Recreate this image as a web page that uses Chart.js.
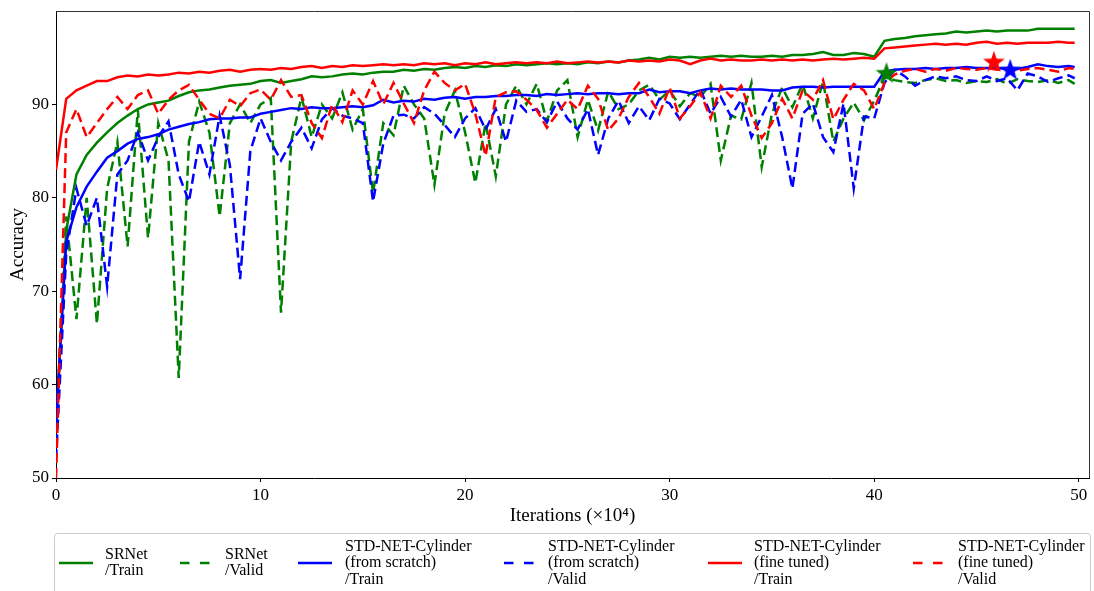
<!DOCTYPE html>
<html>
<head>
<meta charset="utf-8">
<script src="https://cdn.jsdelivr.net/npm/chart.js@4.4.1/dist/chart.umd.min.js"></script>
<style>
  html, body { margin: 0; padding: 0; background: #fff; }
  #accChart { display: block; }
</style>
</head>
<body>
<canvas id="accChart" width="1094" height="591"></canvas>
<script>
// iterations (x10^4)
const iterations = [
  0, 0.5, 1, 1.5, 2, 2.5, 3, 3.5, 4, 4.5,
  5, 5.5, 6, 6.5, 7, 7.5, 8, 8.5, 9, 9.5,
  10, 10.5, 11, 11.5, 12, 12.5, 13, 13.5, 14, 14.5,
  15, 15.5, 16, 16.5, 17, 17.5, 18, 18.5, 19, 19.5,
  20, 20.5, 21, 21.5, 22, 22.5, 23, 23.5, 24, 24.5,
  25, 25.5, 26, 26.5, 27, 27.5, 28, 28.5, 29, 29.5,
  30, 30.5, 31, 31.5, 32, 32.5, 33, 33.5, 34, 34.5,
  35, 35.5, 36, 36.5, 37, 37.5, 38, 38.5, 39, 39.5,
  40, 40.5, 41, 41.5, 42, 42.5, 43, 43.5, 44, 44.5,
  45, 45.5, 46, 46.5, 47, 47.5, 48, 48.5, 49, 49.5,
  49.8
];

const srnetTrain = [
  55, 76.5, 82.5, 84.6, 85.9, 87.0, 88.0, 88.8, 89.5, 90.0,
  90.2, 90.4, 90.9, 91.3, 91.5, 91.6, 91.8, 92.0, 92.1, 92.2,
  92.5, 92.6, 92.3, 92.5, 92.7, 93.0, 92.9, 93.0, 93.2, 93.3,
  93.2, 93.4, 93.5, 93.5, 93.7, 93.6, 93.8, 93.7, 93.9, 94.0,
  93.9, 94.1, 94.0, 94.2, 94.1, 94.3, 94.2, 94.3, 94.4, 94.3,
  94.4, 94.3, 94.5, 94.4, 94.6, 94.5, 94.7, 94.8, 95.0, 94.8,
  95.1, 95.0, 95.1, 95.0, 95.1, 95.2, 95.1, 95.2, 95.1, 95.1,
  95.2, 95.1, 95.3, 95.3, 95.4, 95.6, 95.3, 95.3, 95.5, 95.4,
  95.1, 96.8, 97.0, 97.1, 97.3, 97.4, 97.5, 97.6, 97.8, 97.7,
  97.8, 97.9, 97.8, 97.9, 97.9, 97.9, 98.1, 98.1, 98.1, 98.1,
  98.1
];

const srnetValid = [
  55, 78, 67, 80, 66.5, 81, 86, 74.8, 89.4, 75.7,
  88, 84, 60.7, 86, 90.3, 87, 78.0, 88, 90, 88,
  90, 90.7, 67.7, 86, 90.8, 86.5, 90.0, 88.5, 91.3, 87.3,
  89.5, 80.5, 88, 86.7, 92.0, 90, 88.5, 81.4, 89, 91.5,
  87, 81.6, 88, 82.3, 90, 92.0, 90, 92.2, 88.2, 91.5,
  92.6, 86.5, 90.5, 87.2, 91.4, 89.5, 90.0, 91.5, 92.1, 90.5,
  91.5, 89.8, 91.2, 90.8, 92.2, 84.0, 88.8, 88.4, 92.3, 83.3,
  89.0, 91.8, 89.7, 92.2, 88.5, 92.5, 86.0, 88.5, 90.2, 88.3,
  90.4, 92.9, 92.6, 92.4, 92.3, 92.6, 92.8, 92.5, 92.6, 92.3,
  92.5, 92.4, 92.7, 92.2, 92.7, 92.5, 92.4, 92.6, 92.3, 92.6,
  92.2
];

const scratchTrain = [
  56, 75.3, 79.0, 81.2, 82.8, 84.3, 85.0, 85.8, 86.3, 86.5,
  86.8, 87.3, 87.6, 87.9, 88.1, 88.4, 88.5, 88.5, 88.6, 88.6,
  89.0, 89.2, 89.4, 89.6, 89.5, 89.7, 89.6, 89.6, 89.7, 89.8,
  89.7, 89.9, 90.5, 90.2, 90.4, 90.3, 90.6, 90.5, 90.7, 90.8,
  90.6, 90.8, 90.8, 90.9, 90.9, 91.0, 91.0, 90.9, 91.1, 91.0,
  91.1, 91.2, 91.1, 91.2, 91.2, 91.1, 91.2, 91.2, 91.6, 91.3,
  91.4, 91.4, 91.2, 91.5, 91.7, 91.6, 91.7, 91.6, 91.6, 91.6,
  91.5, 91.5, 91.8, 91.9, 91.9, 91.8, 91.9, 91.9, 91.9, 91.9,
  91.9, 93.5, 93.7, 93.8, 93.8, 93.9, 93.8, 93.9, 93.9, 94.0,
  93.9, 93.9, 93.9, 93.8, 93.8, 94.0, 94.3, 94.1, 94.0, 94.1,
  94.0
];

const scratchValid = [
  52, 74, 81, 77, 80, 70.5, 82.5, 84, 87, 84,
  86.5, 88.2, 82.5, 79.6, 86, 82.5, 88.8, 83.5, 71.3, 85,
  88.5, 86, 84.0, 86.0, 87.5, 85.3, 88.4, 89.6, 88.8, 88.5,
  88.0, 79.6, 85.8, 88.8, 88.9, 88.5, 89.7, 89.0, 87.8, 86.5,
  88.5, 89.6, 87.3, 89.5, 86.0, 90.4, 89.2, 89.5, 88.1, 90.3,
  88.5, 87.3, 89.5, 84.6, 88.5, 90.4, 88.0, 89.8, 88.3, 90.6,
  90.1, 88.4, 90.0, 91.6, 89.0, 90.8, 88.7, 90.5, 86.5, 88.7,
  91.0, 86.5, 81.0, 89.0, 90.1, 86.5, 84.9, 90.1, 81.0, 88.7,
  88.5, 92.3, 93.7, 93.0, 92.0, 92.6, 93.0, 92.8, 93.0, 92.6,
  92.5, 93.0, 92.5, 92.8, 91.5, 93.3, 93.0, 92.4, 92.8, 93.1,
  92.8
];

const fineTrain = [
  83.0, 90.6, 91.5, 92.0, 92.5, 92.5, 92.9, 93.1, 93.0, 93.2,
  93.1, 93.2, 93.4, 93.3, 93.5, 93.4, 93.6, 93.7, 93.5, 93.7,
  93.8, 93.7, 93.9, 93.8, 94.0, 94.1, 93.9, 94.1, 94.0, 94.2,
  94.1, 94.2, 94.3, 94.2, 94.3, 94.2, 94.4, 94.3, 94.4, 94.2,
  94.4, 94.3, 94.5, 94.3, 94.4, 94.5, 94.4, 94.5, 94.4, 94.6,
  94.4, 94.5, 94.6, 94.5, 94.6, 94.5, 94.7, 94.6, 94.7, 94.6,
  94.8, 94.7, 94.3, 94.7, 94.9, 94.7, 94.8, 94.7, 94.7, 94.8,
  94.7, 94.8, 94.7, 94.8, 94.7, 94.8, 94.9, 94.8, 94.9, 95.0,
  94.9, 96.0, 96.1, 96.2, 96.3, 96.4, 96.5, 96.4, 96.5, 96.4,
  96.6, 96.7, 96.5, 96.6, 96.5, 96.6, 96.6, 96.6, 96.7, 96.6,
  96.6
];

const fineValid = [
  50, 87, 89.5, 86.5, 88.0, 89.5, 90.8, 89.5, 91.0, 91.5,
  89.0, 90.5, 91.5, 92.1, 90.5, 89.0, 88.5, 90.5, 89.8, 91.2,
  91.6, 90.5, 92.6, 90.8, 91.0, 88.0, 86.4, 90.0, 88.1, 91.5,
  90.0, 92.5, 90.0, 92.3, 90.1, 88.0, 91.5, 93.5, 92.3, 91.5,
  92.2, 89.0, 84.5, 90.8, 91.3, 91.4, 90.5, 89.4, 87.5, 89.0,
  90.5, 89.5, 92.0, 90.6, 87.2, 88.5, 90.8, 92.3, 90.8, 89.0,
  91.8, 88.5, 89.8, 91.3, 88.5, 92.0, 90.8, 92.0, 88.8, 86.4,
  88.0, 90.6, 88.5, 91.5, 90.5, 92.6, 88.4, 90.5, 92.2, 91.5,
  89.5, 92.3, 93.2, 93.6, 93.8, 93.5, 93.8, 93.6, 93.9, 93.8,
  93.7, 93.9, 93.7, 93.8, 93.6, 93.8, 93.9, 93.7, 93.5, 93.9,
  93.8
];

// best validation points (stars)
const bestSrnet = { x: 40.6, y: 93.4 };
const bestFine = { x: 45.85, y: 94.6 };
const bestScratch = { x: 46.65, y: 93.75 };

const xTicks = [0, 10, 20, 30, 40, 50];
const yTicks = [50, 60, 70, 80, 90];

const legendLabels = [
  ['SRNet', '/Train'],
  ['SRNet', '/Valid'],
  ['STD-NET-Cylinder', '(from scratch)', '/Train'],
  ['STD-NET-Cylinder', '(from scratch)', '/Valid'],
  ['STD-NET-Cylinder', '(fine tuned)', '/Train'],
  ['STD-NET-Cylinder', '(fine tuned)', '/Valid']
];

const GREEN = '#008000';
const BLUE = '#0000ff';
const RED = '#ff0000';
const SERIF = "'Liberation Serif', 'DejaVu Serif', serif";

function pts(ys) {
  return iterations.map((x, i) => ({ x: x, y: ys[i] }));
}

// filled five point star used as point image
function makeStar(color) {
  const c = document.createElement('canvas');
  c.width = 26;
  c.height = 26;
  const g = c.getContext('2d');
  g.beginPath();
  for (let i = 0; i < 10; i++) {
    const r = i % 2 ? 4.6 : 11.5;
    const a = -Math.PI / 2 + i * Math.PI / 5;
    g.lineTo(13 + r * Math.cos(a), 14 + r * Math.sin(a));
  }
  g.closePath();
  g.fillStyle = color;
  g.fill();
  return c;
}

function lineSet(ys, color, dashed, order) {
  return {
    data: pts(ys),
    borderColor: color,
    backgroundColor: color,
    borderWidth: 2.5,
    borderDash: dashed ? [10, 5] : [],
    pointRadius: 0,
    tension: 0,
    fill: false,
    order: order
  };
}

function starSet(p, color) {
  return {
    data: [p],
    showLine: false,
    pointStyle: makeStar(color),
    pointRadius: 12,
    borderColor: color,
    backgroundColor: color,
    order: 0
  };
}

// legend drawn below the axes, matplotlib style
const legendBox = {
  id: 'legendBox',
  afterDraw(chart) {
    const ctx = chart.ctx;
    const ds = chart.data.datasets;
    const swatchX = [59, 180, 298, 504, 708, 913];
    const textX = [105, 225, 345, 548, 754, 958];
    const rowY = 563;
    const lineGap = 16.5;
    ctx.save();
    ctx.beginPath();
    ctx.roundRect(54.5, 533.5, 1036, 70, 3);
    ctx.fillStyle = '#fff';
    ctx.fill();
    ctx.strokeStyle = '#cccccc';
    ctx.lineWidth = 1;
    ctx.stroke();
    ctx.font = '16px ' + SERIF;
    ctx.fillStyle = '#000';
    ctx.textBaseline = 'middle';
    ctx.textAlign = 'left';
    legendLabels.forEach((lines, i) => {
      const d = ds[i];
      const dashed = d.borderDash.length > 0;
      ctx.beginPath();
      ctx.strokeStyle = d.borderColor;
      ctx.lineWidth = 2.7;
      ctx.setLineDash(dashed ? [9.5, 10.5] : []);
      ctx.moveTo(swatchX[i], rowY);
      ctx.lineTo(swatchX[i] + (dashed ? 30 : 34), rowY);
      ctx.stroke();
      ctx.setLineDash([]);
      const y0 = rowY - (lines.length - 1) * lineGap / 2;
      lines.forEach((t, j) => ctx.fillText(t, textX[i], y0 + j * lineGap));
    });
    ctx.restore();
  }
};

// top and right spines
const frame = {
  id: 'frame',
  afterDraw(chart) {
    const a = chart.chartArea;
    const ctx = chart.ctx;
    ctx.save();
    ctx.strokeStyle = '#333';
    ctx.lineWidth = 1;
    ctx.beginPath();
    ctx.moveTo(a.left, a.top + 0.5);
    ctx.lineTo(a.right + 0.5, a.top + 0.5);
    ctx.lineTo(a.right + 0.5, a.bottom);
    ctx.stroke();
    ctx.restore();
  }
};

const ctxAcc = document.getElementById('accChart').getContext('2d');

const accChart = new Chart(ctxAcc, {
  type: 'line',
  data: {
    datasets: [
      lineSet(srnetTrain, GREEN, false, 6),
      lineSet(srnetValid, GREEN, true, 5),
      lineSet(scratchTrain, BLUE, false, 4),
      lineSet(scratchValid, BLUE, true, 3),
      lineSet(fineTrain, RED, false, 2),
      lineSet(fineValid, RED, true, 1),
      starSet(bestSrnet, GREEN),
      starSet(bestFine, RED),
      starSet(bestScratch, BLUE)
    ]
  },
  options: {
    responsive: false,
    animation: false,
    layout: { autoPadding: false, padding: { left: 0, right: 5, top: 11, bottom: 0 } },
    plugins: {
      legend: { display: false },
      tooltip: { enabled: false }
    },
    scales: {
      x: {
        type: 'linear',
        min: 0,
        max: 50.5,
        afterBuildTicks: (s) => { s.ticks = xTicks.map(v => ({ value: v })); },
        afterFit: (s) => { s.height = 113; s.paddingLeft = 0; s.paddingRight = 0; },
        ticks: {
          color: '#000',
          font: { family: SERIF, size: 17 },
          padding: 3,
          maxRotation: 0
        },
        grid: { drawOnChartArea: false, drawTicks: true, tickLength: 4, color: '#000' },
        border: { display: true, color: '#000', width: 1 },
        title: {
          display: true,
          text: 'Iterations (×10⁴)',
          color: '#000',
          font: { family: SERIF, size: 19 },
          padding: { top: 0, bottom: 63.5 }
        }
      },
      y: {
        min: 50,
        max: 100,
        afterBuildTicks: (s) => { s.ticks = yTicks.map(v => ({ value: v })); },
        afterFit: (s) => { s.width = 56; s.paddingTop = 0; s.paddingBottom = 0; },
        ticks: {
          color: '#000',
          font: { family: SERIF, size: 17 },
          padding: 3
        },
        grid: { drawOnChartArea: false, drawTicks: true, tickLength: 4, color: '#000' },
        border: { display: true, color: '#000', width: 1 },
        title: {
          display: true,
          text: 'Accuracy',
          color: '#000',
          font: { family: SERIF, size: 19 },
          padding: { top: 7, bottom: 0 }
        }
      }
    }
  },
  plugins: [legendBox, frame]
});
</script>
</body>
</html>
